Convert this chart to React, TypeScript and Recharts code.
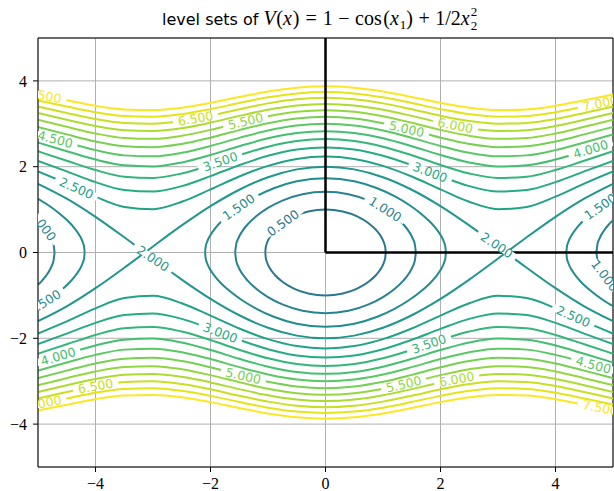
import { CartesianGrid, Line, LineChart, ReferenceDot, ReferenceLine, XAxis, YAxis } from 'recharts';

const TICKS = [-4, -2, 0, 2, 4];

// colour of each level (viridis, upper part)
const LEVEL_COLORS: Record<string, string> = {
  '0.5': '#2a788e', '1': '#26838f', '1.5': '#228d8d', '2': '#1f978b', '2.5': '#20a386',
  '3': '#25ac82', '3.5': '#32b67a', '4': '#44bf70', '4.5': '#5ac864', '5': '#75d054',
  '5.5': '#92d742', '6': '#addc30', '6.5': '#c8e020', '7': '#e5e419', '7.5': '#fde725',
};

// open level sets, upper branch read at x1 >= 0 (the picture is symmetric in x1 and x2)
const OPEN_X = [0, 0.5, 1, 1.5, 2, 2.5, 3, 3.5, 4, 4.5, 5];
const Y_250 = [2.236, 2.181, 2.02, 1.772, 1.472, 1.182, 1.01, 1.062, 1.301, 1.606, 1.889];
const Y_300 = [2.449, 2.399, 2.254, 2.035, 1.78, 1.548, 1.421, 1.458, 1.641, 1.892, 2.137];
const Y_350 = [2.646, 2.599, 2.466, 2.267, 2.041, 1.843, 1.738, 1.768, 1.922, 2.14, 2.359];
const Y_400 = [2.828, 2.785, 2.661, 2.478, 2.273, 2.097, 2.005, 2.032, 2.166, 2.362, 2.563];
const Y_450 = [3.0, 2.959, 2.843, 2.672, 2.483, 2.323, 2.241, 2.264, 2.386, 2.565, 2.751];
const Y_500 = [3.162, 3.123, 3.013, 2.853, 2.677, 2.529, 2.454, 2.475, 2.587, 2.753, 2.927];
const Y_550 = [3.317, 3.28, 3.175, 3.023, 2.858, 2.72, 2.65, 2.67, 2.774, 2.929, 3.093];
const Y_600 = [3.464, 3.429, 3.329, 3.185, 3.028, 2.898, 2.832, 2.851, 2.948, 3.095, 3.251];
const Y_650 = [3.606, 3.571, 3.476, 3.338, 3.189, 3.066, 3.003, 3.021, 3.113, 3.252, 3.401];
const Y_700 = [3.742, 3.709, 3.617, 3.484, 3.342, 3.225, 3.165, 3.182, 3.27, 3.403, 3.545];
const Y_750 = [3.873, 3.841, 3.752, 3.625, 3.488, 3.376, 3.32, 3.336, 3.419, 3.547, 3.683];

// separatrix (level 2)
const SEP_X = [0, 0.5, 1, 1.5, 2, 2.5, 3, 3.1416];
const SEP_Y = [2, 1.938, 1.755, 1.463, 1.081, 0.631, 0.141, 0];
const SEP_EDGE_X = [3.1416, 3.5, 4, 4.5, 5];
const SEP_EDGE_Y = [0, 0.356, 0.832, 1.256, 1.602];

// closed loops round the origin, quarter x1 >= 0, x2 >= 0
const L050_X = [0, 0.3, 0.55, 0.75, 0.88, 0.97, 1.02, 1.04, 1.047];
const L050_Y = [1, 0.954, 0.84, 0.681, 0.524, 0.363, 0.214, 0.111, 0];
const L100_X = [0, 0.4, 0.75, 1.0, 1.2, 1.35, 1.45, 1.52, 1.555, 1.571];
const L100_Y = [1.414, 1.357, 1.21, 1.04, 0.851, 0.662, 0.491, 0.319, 0.178, 0];
const L150_X = [0, 0.5, 0.9, 1.2, 1.45, 1.65, 1.8, 1.92, 2.0, 2.06, 2.085, 2.094];
const L150_Y = [1.732, 1.66, 1.498, 1.313, 1.114, 0.917, 0.739, 0.562, 0.41, 0.244, 0.129, 0];

// loops cut by the right edge (round x1 = 2pi)
const E100_X = [4.712, 4.728, 4.763, 4.833, 4.933, 5];
const E100_Y = [0, 0.178, 0.319, 0.491, 0.662, 0.753];
const E150_X = [4.189, 4.198, 4.223, 4.283, 4.363, 4.483, 4.633, 4.833, 5];
const E150_Y = [0, 0.129, 0.244, 0.41, 0.562, 0.739, 0.917, 1.114, 1.252];

// inline contour labels
const LABELS = [
  { t: '7.500', lv: '7.5', x: -4.9, y: 3.66, a: 11 },
  { t: '6.500', lv: '6.5', x: -2.26, y: 3.125, a: -10 },
  { t: '5.500', lv: '5.5', x: -1.39, y: 3.06, a: -13 },
  { t: '4.500', lv: '4.5', x: -4.7, y: 2.64, a: 15 },
  { t: '3.500', lv: '3.5', x: -1.83, y: 2.12, a: -19 },
  { t: '2.500', lv: '2.5', x: -4.33, y: 1.5, a: 24 },
  { t: '1.000', lv: '1', x: -4.92, y: 0.64, a: 53 },
  { t: '2.000', lv: '2', x: -3.0, y: -0.14, a: 34 },
  { t: '1.500', lv: '1.5', x: -4.89, y: -1.16, a: -32 },
  { t: '1.500', lv: '1.5', x: -1.51, y: 1.06, a: -35 },
  { t: '0.500', lv: '0.5', x: -0.74, y: 0.69, a: -36 },
  { t: '1.000', lv: '1', x: 1.04, y: 1.01, a: 32 },
  { t: '5.000', lv: '5', x: 1.41, y: 2.88, a: 13 },
  { t: '6.000', lv: '6', x: 2.26, y: 2.96, a: 11 },
  { t: '7.000', lv: '7', x: 4.78, y: 3.48, a: -12 },
  { t: '4.000', lv: '4', x: 4.61, y: 2.41, a: -17 },
  { t: '3.000', lv: '3', x: 1.82, y: 1.87, a: 21 },
  { t: '1.500', lv: '1.5', x: 4.78, y: 1.07, a: -35 },
  { t: '2.000', lv: '2', x: 2.98, y: 0.17, a: 34 },
  { t: '1.000', lv: '1', x: 4.86, y: -0.54, a: 53 },
  { t: '2.500', lv: '2.5', x: 4.31, y: -1.49, a: 24 },
  { t: '4.500', lv: '4.5', x: 4.66, y: -2.62, a: 15 },
  { t: '3.500', lv: '3.5', x: 1.8, y: -2.13, a: -19 },
  { t: '5.500', lv: '5.5', x: 1.36, y: -3.07, a: -13 },
  { t: '6.000', lv: '6', x: 2.28, y: -2.955, a: -11 },
  { t: '7.500', lv: '7.5', x: 4.78, y: -3.62, a: 11 },
  { t: '3.000', lv: '3', x: -1.83, y: -1.87, a: 21 },
  { t: '5.000', lv: '5', x: -1.43, y: -2.875, a: 13 },
  { t: '4.000', lv: '4', x: -4.65, y: -2.42, a: -17 },
  { t: '6.500', lv: '6.5', x: -4.0, y: -3.113, a: -10 },
  { t: '7.000', lv: '7', x: -4.9, y: -3.51, a: -12 },
];

const AXIS_V = [{ x: 0, y: 0 }, { x: 0, y: 5 }];
const AXIS_H = [{ x: 0, y: 0 }, { x: 5, y: 0 }];

type Pt = { x: number; y: number };

// xs start at 0: reflect to negative x1
function mirrored(xs: number[], ys: number[], sign = 1): Pt[] {
  const left = xs.slice(1).map((x, i) => ({ x: -x, y: sign * ys[i + 1] })).reverse();
  const right = xs.map((x, i) => ({ x, y: sign * ys[i] }));
  return [...left, ...right];
}
function edge(xs: number[], ys: number[], sx: number, sy: number): Pt[] {
  const pts = xs.map((x, i) => ({ x: sx * x, y: sy * ys[i] }));
  return sx < 0 ? pts.reverse() : pts;
}

const series: { key: string; lv: string; pts: Pt[] }[] = [];
const open: [string, number[]][] = [
  ['2.5', Y_250], ['3', Y_300], ['3.5', Y_350], ['4', Y_400], ['4.5', Y_450], ['5', Y_500],
  ['5.5', Y_550], ['6', Y_600], ['6.5', Y_650], ['7', Y_700], ['7.5', Y_750],
];
open.forEach(([lv, ys]) => {
  series.push({ key: `u${lv}`, lv, pts: mirrored(OPEN_X, ys) });
  series.push({ key: `d${lv}`, lv, pts: mirrored(OPEN_X, ys, -1) });
});
[1, -1].forEach((s) => {
  series.push({ key: `sep${s}`, lv: '2', pts: mirrored(SEP_X, SEP_Y, s) });
  series.push({ key: `sepr${s}`, lv: '2', pts: edge(SEP_EDGE_X, SEP_EDGE_Y, 1, s) });
  series.push({ key: `sepl${s}`, lv: '2', pts: edge(SEP_EDGE_X, SEP_EDGE_Y, -1, s) });
  const loops: [string, number[], number[]][] = [['0.5', L050_X, L050_Y], ['1', L100_X, L100_Y], ['1.5', L150_X, L150_Y]];
  loops.forEach(([lv, xs, ys]) => series.push({ key: `l${lv}${s}`, lv, pts: mirrored(xs, ys, s) }));
  const edges: [string, number[], number[]][] = [['1', E100_X, E100_Y], ['1.5', E150_X, E150_Y]];
  edges.forEach(([lv, xs, ys]) => {
    series.push({ key: `er${lv}${s}`, lv, pts: edge(xs, ys, 1, s) });
    series.push({ key: `el${lv}${s}`, lv, pts: edge(xs, ys, -1, s) });
  });
});

// chart layout
const W = 614;
const H = 491;
const MARGIN = { top: 38, right: 1, bottom: 0, left: 0 };
const Y_AXIS_W = 38;
const X_AXIS_H = 24;
const PLOT = {
  x: MARGIN.left + Y_AXIS_W,
  y: MARGIN.top,
  w: W - MARGIN.left - MARGIN.right - Y_AXIS_W,
  h: H - MARGIN.top - MARGIN.bottom - X_AXIS_H,
};

const fmt = (v: number) => (v < 0 ? `\u2212${Math.abs(v)}` : `${v}`);
const tickStyle = { fill: '#000', fontSize: 16, fontFamily: '"Liberation Serif", serif' };

function ContourLabel(props: { id: string; cx?: number; cy?: number; text: string; color: string; angle: number }) {
  const { id, cx = 0, cy = 0, text, color, angle } = props;
  return (
    <g>
      <defs>
        <clipPath id={id}>
          <rect x={PLOT.x} y={PLOT.y} width={PLOT.w} height={PLOT.h} />
        </clipPath>
      </defs>
      <g clipPath={`url(#${id})`}>
        <g transform={`translate(${cx},${cy}) rotate(${angle})`}>
          <rect x={-23} y={-3.5} width={46} height={7} fill="#fff" />
          <text textAnchor="middle" dy="0.36em" fontSize={12.5} fontFamily='"DejaVu Sans", sans-serif' fill={color}>{text}</text>
        </g>
      </g>
    </g>
  );
}

export default function App() {
  return (
    <div style={{ position: 'fixed', left: 0, top: 0, width: W, height: H, background: '#fff' }}>
      <svg width={W} height={36} style={{ position: 'absolute', left: 0, top: 0 }}>
        <text x={162} y={25} fontSize={16} fill="#000">
          <tspan fontFamily='"DejaVu Sans", sans-serif'>level sets of </tspan>
          <tspan fontFamily='"Liberation Serif", serif' fontSize={20}>
            <tspan fontStyle="italic">V</tspan><tspan dx={0.5}>(</tspan><tspan fontStyle="italic">x</tspan><tspan dx={1}>)</tspan>
            <tspan dx={6}>=</tspan><tspan dx={6}>1</tspan><tspan dx={5.5}>−</tspan><tspan dx={5.5}>cos</tspan>
            <tspan dx={1.5}>(</tspan><tspan fontStyle="italic">x</tspan>
            <tspan fontSize={13} dx={1} dy={4}>1</tspan>
            <tspan dy={-4}>)</tspan><tspan dx={5.5}>+</tspan><tspan dx={5.5}>1/2</tspan>
            <tspan fontStyle="italic">x</tspan>
            <tspan fontSize={13} dx={1} dy={5}>2</tspan>
            <tspan fontSize={13} dx={-6.5} dy={-14}>2</tspan>
          </tspan>
        </text>
      </svg>
      <LineChart width={W} height={H} margin={MARGIN}>
        <CartesianGrid stroke="#b0b0b0" strokeWidth={1} />
        <XAxis type="number" dataKey="x" domain={[-5, 5]} ticks={TICKS} allowDataOverflow tickFormatter={fmt}
          height={X_AXIS_H} tickSize={5} tickMargin={6} stroke="#000" tick={tickStyle} />
        <YAxis type="number" dataKey="y" domain={[-5, 5]} ticks={TICKS} allowDataOverflow tickFormatter={fmt}
          width={Y_AXIS_W} tickSize={5} tickMargin={6} stroke="#000" tick={tickStyle} />
        <ReferenceLine y={5} stroke="#000" strokeWidth={1} />
        <ReferenceLine x={5} stroke="#000" strokeWidth={1} />
        {series.map((s) => (
          <Line key={s.key} data={s.pts} dataKey="y" type="monotone" stroke={LEVEL_COLORS[s.lv]} strokeWidth={2}
            dot={false} activeDot={false} isAnimationActive={false} />
        ))}
        <Line data={AXIS_V} dataKey="y" type="linear" stroke="#000" strokeWidth={2.5} dot={false} isAnimationActive={false} />
        <Line data={AXIS_H} dataKey="y" type="linear" stroke="#000" strokeWidth={2.5} dot={false} isAnimationActive={false} />
        {LABELS.map((l, i) => (
          <ReferenceDot key={i} x={l.x} y={l.y} r={0} ifOverflow="visible"
            shape={(p: any) => <ContourLabel id={`lblclip${i}`} cx={p.cx} cy={p.cy} text={l.t} color={LEVEL_COLORS[l.lv]} angle={l.a} />} />
        ))}
      </LineChart>
    </div>
  );
}
